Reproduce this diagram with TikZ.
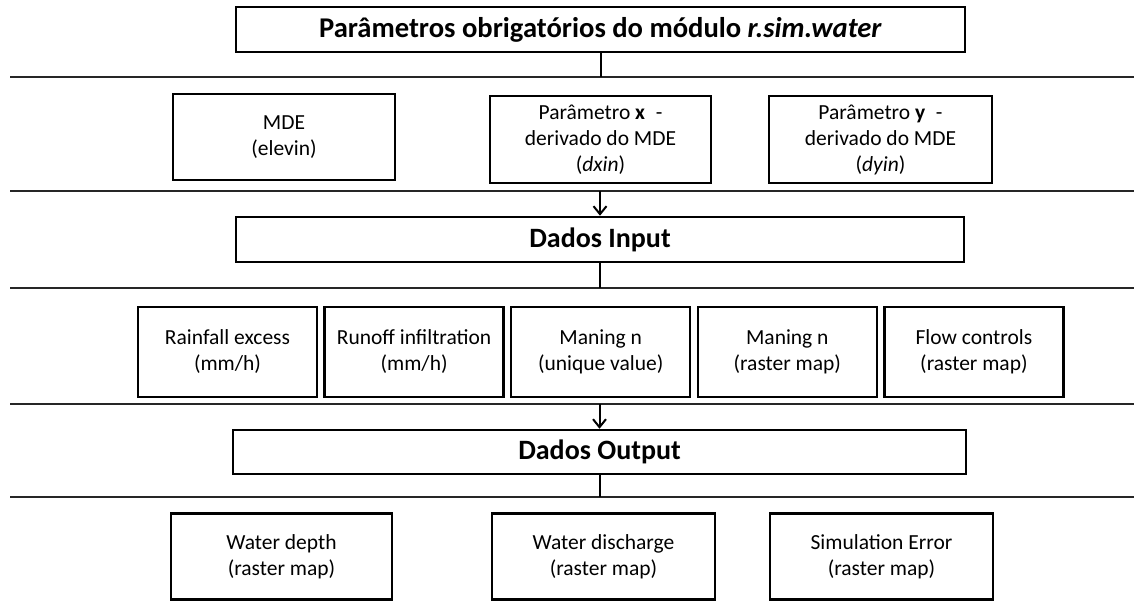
\documentclass[tikz,border=0pt]{standalone}
\usepackage{fontspec}
\setmainfont{Carlito}
\usetikzlibrary{arrows.meta}
\begin{document}
\begin{tikzpicture}[x=1pt,y=-1pt,
  box/.style={draw=black, line width=2.5pt, inner sep=0pt, align=center,
    font=\fontsize{21.5}{26}\selectfont},
  headbox/.style={draw=black, line width=2.5pt, inner sep=0pt,
    font=\fontsize{28}{32}\selectfont\bfseries},
  rule/.style={draw=black!85, line width=2.4pt},
  link/.style={draw=black, line width=2pt},
  flow/.style={link, -{Straight Barb[length=8pt,width=13pt,line width=2pt]}}
]
\useasboundingbox (0,0) rectangle (1134,601);

% separator rules across the page
\coordinate (r1w) at (10,77);  \coordinate (r1e) at (1134,77);
\coordinate (r2w) at (10,191); \coordinate (r2e) at (1134,191);
\coordinate (r3w) at (10,288); \coordinate (r3e) at (1134,288);
\coordinate (r4w) at (10,404); \coordinate (r4e) at (1134,404);
\coordinate (r5w) at (10,497); \coordinate (r5e) at (1134,497);
\foreach \r in {1,...,5} { \draw[rule] (r\r w) -- (r\r e); }

% header
\node[headbox, minimum width=729pt, minimum height=45pt,
      font=\fontsize{28.6}{32}\selectfont\bfseries] (title) at (600.5,29.5)
  {Parâmetros obrigatórios do módulo \textit{r.sim.water}};

% mandatory parameters
\node[box, minimum width=222pt, minimum height=86pt] (mde) at (284,137)
  {MDE\\(elevin)};
\node[box, minimum width=221pt, minimum height=87pt] (dx) at (600.5,139.5)
  {Parâmetro \textbf{x}\enspace-\\derivado do MDE\\(\textit{dxin})};
\node[box, minimum width=223pt, minimum height=87pt] (dy) at (880.5,139.5)
  {Parâmetro \textbf{y}\enspace-\\derivado do MDE\\(\textit{dyin})};

% input data
\node[headbox, minimum width=728pt, minimum height=45pt] (input) at (600,239.5)
  {Dados Input};
\node[box, minimum width=179pt, minimum height=90pt] (rain) at (227.5,352)
  {Rainfall excess\\(mm/h)};
\node[box, minimum width=179pt, minimum height=90pt] (runoff) at (414.1,352)
  {Runoff infiltration\\(mm/h)};
\node[box, minimum width=179pt, minimum height=90pt] (nuniq) at (600.7,352)
  {Maning n\\(unique value)};
\node[box, minimum width=179pt, minimum height=90pt] (nmap) at (787.3,352)
  {Maning n\\(raster map)};
\node[box, minimum width=179pt, minimum height=90pt] (fctl) at (973.9,352)
  {Flow controls\\(raster map)};

% output data
\node[headbox, minimum width=733pt, minimum height=44pt] (output) at (599.5,452)
  {Dados Output};
\node[box, minimum width=221pt, minimum height=86pt] (depth) at (281.5,556.5)
  {Water depth\\(raster map)};
\node[box, minimum width=223pt, minimum height=86pt] (disch) at (603.5,556.5)
  {Water discharge\\(raster map)};
\node[box, minimum width=223pt, minimum height=86pt] (simerr) at (881.5,556.5)
  {Simulation Error\\(raster map)};

% connectors
\draw[link] (title.south) -- (title.south |- r1w);
\draw[flow] (input.north |- r2w) -- (input.north);
\draw[link] (input.south) -- (input.south |- r3w);
\draw[flow] (output.north |- r4w) -- (output.north);
\draw[link] (output.south) -- (output.south |- r5w);
\end{tikzpicture}
\end{document}
